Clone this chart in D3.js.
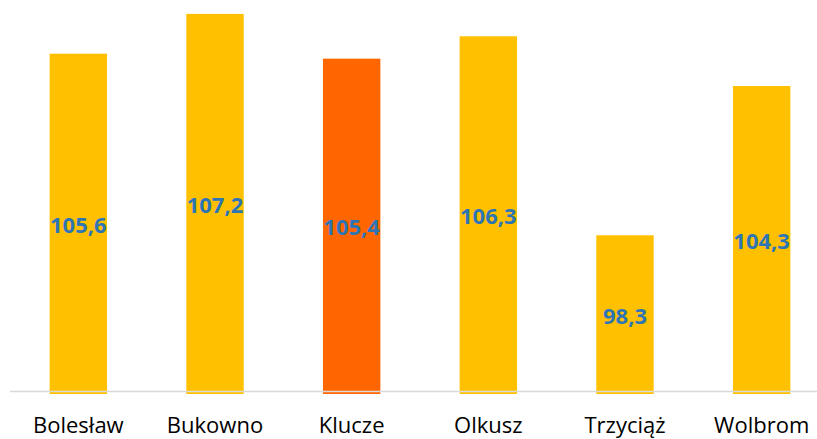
<!DOCTYPE html>
<html>
<head>
<meta charset="utf-8">
<script src="https://cdn.jsdelivr.net/npm/d3@7"></script>
<style>
  html, body { margin: 0; padding: 0; background: #fff; }
  svg { display: block; }
  .cat { font-family: "Open Sans", sans-serif; font-size: 22px; fill: #000; }
  .val { font-family: "Open Sans", sans-serif; font-size: 22px; font-weight: 700; fill: #2E75B6; }
</style>
</head>
<body>
<div id="chart"></div>
<script>
// Gminy powiatu olkuskiego, wartości wskaźnika
const categories = ['Bolesław', 'Bukowno', 'Klucze', 'Olkusz', 'Trzyciąż', 'Wolbrom'];
const values = [105.6, 107.2, 105.4, 106.3, 98.3, 104.3];
const highlighted = 'Klucze';

const width = 817, height = 439;
const baseY = 392;

const svg = d3.select('#chart').append('svg')
  .attr('width', width)
  .attr('height', height);

const data = categories.map((c, i) => ({cat: c, value: values[i]}));

const x = d3.scaleBand()
  .domain(categories)
  .range([10, 830])
  .paddingInner(0.58)
  .paddingOuter(0.29);

const y = d3.scaleLinear()
  .domain([92, 108])
  .range([baseY, -6]);

const fmt = v => d3.format('.1f')(v).replace('.', ',');

// Slupki
svg.append('g').selectAll('rect')
  .data(data)
  .join('rect')
  .attr('x', d => x(d.cat))
  .attr('width', x.bandwidth())
  .attr('y', d => y(d.value))
  .attr('height', d => baseY + 2 - y(d.value))
  .attr('fill', d => d.cat === highlighted ? '#FF6600' : '#FFC000');

// Linia osi
svg.append('line')
  .attr('x1', 10).attr('x2', width)
  .attr('y1', baseY - 0.5).attr('y2', baseY - 0.5)
  .attr('stroke', '#D9D9D9')
  .attr('stroke-width', 1.5);

// Etykiety wartosci
svg.append('g').selectAll('text')
  .data(data)
  .join('text')
  .attr('class', 'val')
  .attr('x', d => x(d.cat) + x.bandwidth() / 2)
  .attr('y', d => (y(d.value) + baseY) / 2 + 4)
  .attr('text-anchor', 'middle')
  .attr('dominant-baseline', 'middle')
  .text(d => fmt(d.value));

// Os X
const xAxis = svg.append('g')
  .attr('transform', `translate(0,${baseY})`)
  .call(d3.axisBottom(x).tickSize(0).tickPadding(25));
xAxis.select('.domain').remove();
xAxis.selectAll('text').attr('class', 'cat').attr('fill', null);
</script>
</body>
</html>
